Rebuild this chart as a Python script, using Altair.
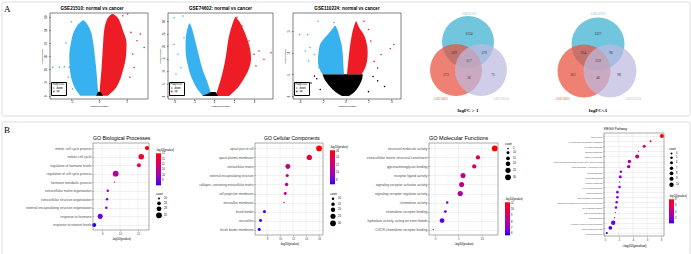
import altair as alt
import pandas as pd

SANS = "Liberation Sans"
SERIF = "Liberation Serif"
BLUE = "#38B1F1"
RED = "#EE1C24"
BLACK = "#000000"

# ---------------- Panel A: volcano plots (cloud envelopes + outliers) ----------------
# GSE21510
v1_down_y = [0, 5, 10, 20, 30, 40, 50, 54, 57]
v1_down_xl = [-3.4, -4.3, -4.8, -5.3, -5.4, -5.1, -4.4, -3.8, -3.0]
v1_down_xr = [-0.1, -0.2, -0.3, -0.5, -0.75, -1.05, -1.6, -2.1, -2.7]
v1_up_y = [0, 5, 10, 20, 30, 40, 50, 55, 60, 62]
v1_up_xl = [0.1, 0.15, 0.25, 0.45, 0.6, 0.75, 0.95, 1.2, 1.8, 2.3]
v1_up_xr = [1.6, 2.9, 3.6, 4.4, 4.9, 5.0, 4.3, 3.9, 3.2, 2.6]
v1_ns_y = [0, 1.5, 3]
v1_ns_xl = [-0.5, -0.35, -0.15]
v1_ns_xr = [0.7, 0.5, 0.2]
v1_pt_x = [-8.4, -7.2, -6.3, -5.4, -5.0, -6.0, -5.6, -4.8, 8.2, 7.5, 6.9, 6.1, 5.2, 4.3, 3.5, 5.8, 6.4, 5.6]
v1_pt_y = [21.5, 21.5, 22, 21.5, 56, 40, 14, 5, 36.6, 46.7, 41.7, 31.6, 61.9, 60.6, 57, 48, 21.4, 14]
v1_pt_d = ["down"] * 8 + ["up"] * 10

# GSE74602
v2_down_y = [0, 3, 6, 9, 12, 16, 20, 24, 27, 29]
v2_down_xl = [-1.1, -1.7, -2.1, -2.4, -2.6, -2.8, -2.85, -2.8, -2.65, -2.5]
v2_down_xr = [-0.2, -0.45, -0.7, -1.0, -1.25, -1.5, -1.75, -2.0, -2.2, -2.4]
v2_up_y = [0, 3, 7, 11, 15, 19, 23, 27, 30, 31.5]
v2_up_xl = [0.15, 0.4, 0.7, 0.95, 1.15, 1.3, 1.45, 1.7, 1.95, 2.1]
v2_up_xr = [1.5, 2.3, 3.0, 3.5, 3.7, 3.6, 3.3, 2.9, 2.5, 2.2]
v2_ns_y = [0, 0.8, 1.6]
v2_ns_xl = [-1.2, -0.7, -0.3]
v2_ns_xr = [0.4, 0.3, 0.15]
v2_pt_x = [-4.0, -3.1, -4.0, -3.6, -3.3, -3.8, -3.0, 4.0, 4.5, 5.7, 5.0, 2.3, 2.8, 3.5, 4.2]
v2_pt_y = [31.3, 32, 20.7, 16.7, 11.3, 8.7, 23.3, 16.7, 18, 17.3, 14.7, 31.5, 28, 22, 12]
v2_pt_d = ["down"] * 7 + ["up"] * 8

# GSE110224
v3_down_y = [5, 6.5, 8, 10, 12, 13.5, 15, 16.2]
v3_down_xl = [-2.0, -2.3, -2.4, -2.35, -2.2, -1.8, -1.3, -0.95]
v3_down_xr = [-0.13, -0.17, -0.2, -0.25, -0.35, -0.5, -0.65, -0.85]
v3_up_y = [5, 6.5, 8, 10, 12, 14, 16, 17.3]
v3_up_xl = [0.13, 0.18, 0.24, 0.32, 0.42, 0.54, 0.72, 0.9]
v3_up_xr = [1.4, 1.7, 1.87, 1.93, 1.85, 1.63, 1.15, 0.95]
v3_ns_y = [0, 1, 2, 3, 4, 5]
v3_ns_xl = [-0.3, -0.9, -1.3, -1.6, -1.85, -2.0]
v3_ns_xr = [0.3, 0.8, 1.1, 1.3, 1.45, 1.5]
v3_pt_x = [-4.0, -3.3, -2.4, -1.0, -3.1, -2.7, -3.2, -2.3, -3.5, 4.2, 3.9, 3.1, 2.8, 2.2, 1.6, 2.0, 2.5]
v3_pt_y = [14.2, 14.2, 17.3, 17, 11.2, 9.6, 8.1, 6.5, 10.4, 11.9, 11, 9.6, 6.5, 12.7, 17.3, 15.4, 8]
v3_pt_d = ["down"] * 9 + ["up"] * 8
v3_nsp_x = [-2.5, -3.0, 2.8, 3.4, -2.2, 2.0, -2.7, 2.4]
v3_nsp_y = [4, 3, 3.5, 2.2, 1.5, 1.0, 4.6, 4.5]

# ---------------- Venn diagrams ----------------
venn_sets = ["GSE21510", "GSE74602", "GSE110224"]
venn_fill = ["#3AAFD0", "#E8503F", "#BEBADF"]
venn_label_col = ["#8BB8CC", "#E8574A", "#B9B5D8"]
venn1_cx = [47, 35, 60]
venn1_cy = [29, 57, 57]
venn1_num = ["2124", "289", "129", "317", "373", "26", "75"]
venn1_nx = [48, 33, 63, 48, 25, 48, 72]
venn1_ny = [21, 40, 40, 48, 62, 65, 62]
venn1_lx = [48, 20, 80]
venn1_ly = [1, 86, 86]
venn1_caption = "logFC > 1"
venn2_cx = [47, 33, 59]
venn2_cy = [31, 58, 58]
venn2_num = ["3327", "184", "96", "239", "361", "46", "98"]
venn2_nx = [47, 32, 60, 47, 22, 47, 68]
venn2_ny = [21, 40, 40, 48, 62, 65, 62]
venn2_lx = [47, 12, 82]
venn2_ly = [1, 86, 86]
venn2_caption = "logFC<1"

# ---------------- Panel B: enrichment bubble plots ----------------
bp_terms = ["mitotic cell cycle process", "mitotic cell cycle", "regulation of hormone levels",
            "regulation of cell cycle process", "hormone metabolic process",
            "extracellular matrix organization", "extracellular structure organization",
            "external encapsulating structure organization", "response to hormone",
            "response to nutrient levels"]
bp_x = [11.5, 11.18, 11.05, 9.76, 9.70, 9.32, 9.28, 9.24, 8.90, 8.57]
bp_count = [26, 31, 25, 32, 19, 21, 21, 21, 29, 25]

cc_terms = ["apical part of cell", "apical plasma membrane", "extracellular matrix",
            "external encapsulating structure", "collagen- containing extracellular matrix",
            "cell projection membrane", "microvillus membrane", "brush border", "microvillus",
            "brush border membrane"]
cc_x = [16.0, 14.5, 11.2, 11.1, 11.0, 10.8, 10.6, 7.6, 7.0, 6.8]
cc_count = [30, 26, 24, 13, 14, 12, 7, 13, 12, 12]

mf_terms = ["structural molecule activity", "extracellular matrix structural constituent",
            "glycosaminoglycan binding", "receptor ligand activity",
            "signaling receptor activator activity", "signaling receptor regulator activity",
            "chemokine activity", "chemokine receptor binding",
            "hydrolase activity, acting on ester bonds", "CXCR chemokine receptor binding"]
mf_x = [12.8, 9.2, 8.4, 6.0, 5.7, 5.4, 2.6, 2.2, 1.5, -0.4]
mf_color = [11.0, 9.6, 9.3, 8.4, 8.2, 8.0, 6.9, 6.7, 6.4, 6.0]
mf_count = [30, 18, 18, 24, 24, 25, 8, 9, 22, 4]

kegg_terms = ["Bile secretion", "Proximal tubule bicarbonate reclamation", "Pyruvate metabolism",
              "Nitrogen metabolism", "Alcoholic liver disease",
              "Viral protein interaction with cytokine and cytokine receptor",
              "Drug metabolism - cytochrome P450", "Mineral absorption", "Rheumatoid arthritis",
              "Tyrosine metabolism", "IL-17 signaling pathway", "Retinol metabolism",
              "Steroid hormone biosynthesis",
              "Epithelial cell signaling in Helicobacter pylori infection",
              "PPAR signaling pathway", "Fatty acid degradation", "ABC transporters",
              "Cytokine-cytokine receptor interaction", "Lipid and atherosclerosis",
              "Pancreatic secretion"]
kegg_x = [8.1, 6.5, 5.6, 4.8, 4.6, 3.5, 3.4, 2.3, 2.2, 2.1, 2.1, 1.8, 1.8, 1.7, 1.6, 1.5, 1.4, 1.2, 0.8, 0.3]
kegg_count = [9, 4, 6, 3, 9, 7, 7, 5, 6, 3, 5, 5, 5, 5, 5, 3, 3, 10, 8, 4]

# minor grid positions (between the major ticks)
bp_minor = [9.5, 10.5, 11.5]
cc_minor = [7, 9, 11, 13, 15]
mf_minor = [2.5, 7.5, 12.5]
kegg_minor = [1, 3, 5, 7]


# ---------------- helpers ----------------
def region(ys, xl, xr, col, xs, ysc, xa, ya):
    df = pd.DataFrame({"y": ys, "xl": xl, "xr": xr})
    return alt.Chart(df).mark_area(orient="horizontal", color=col, interpolate="monotone").encode(
        y=alt.Y("y:Q", scale=ysc, axis=ya),
        x=alt.X("xl:Q", scale=xs, axis=xa),
        x2="xr:Q",
    )


def volcano(title, regs, px, py, pdir, xdom, ydom, xvals, yvals, w, h, title_dx=0,
            nsx=None, nsy=None):
    xs = alt.Scale(domain=xdom, nice=False, zero=False)
    ysc = alt.Scale(domain=ydom, nice=False, zero=False)
    xa = alt.Axis(values=xvals, title="log2(fold change)", labelFontSize=2.6, titleFontSize=2.4,
                  tickSize=1.5, tickWidth=0.4, tickColor=BLACK, domain=False, grid=False,
                  labelPadding=0.8, titlePadding=1.2, labelColor=BLACK, titleColor=BLACK,
                  titleFontWeight="normal", labelFlush=False)
    ya = alt.Axis(values=yvals, title="-log10(Pvalue)", labelFontSize=2.6, titleFontSize=2.4,
                  tickSize=1.5, tickWidth=0.4, tickColor=BLACK, domain=False, grid=False,
                  labelAngle=270, labelAlign="center", labelBaseline="bottom",
                  labelPadding=0.8, titlePadding=1.5, labelColor=BLACK, titleColor=BLACK,
                  titleFontWeight="normal", labelFlush=False)
    layers = [region(*r, xs, ysc, xa, ya) for r in regs]
    if nsx is not None:
        ndf = pd.DataFrame({"x": nsx, "y": nsy})
        layers.append(alt.Chart(ndf).mark_circle(size=2.5, opacity=1, color=BLACK).encode(
            x=alt.X("x:Q", scale=xs, axis=xa), y=alt.Y("y:Q", scale=ysc, axis=ya)))
    pdf = pd.DataFrame({"x": px, "y": py, "dir": pdir})
    layers.append(alt.Chart(pdf).mark_circle(size=2.5, opacity=1).encode(
        x=alt.X("x:Q", scale=xs, axis=xa),
        y=alt.Y("y:Q", scale=ysc, axis=ya),
        color=alt.Color("dir:N", scale=alt.Scale(domain=["down", "up"], range=[BLUE, RED]),
                        legend=alt.Legend(orient="none", legendX=1, legendY=h - 17,
                                          title="Padj<0.05", titleFontSize=2.6,
                                          titleFontWeight="normal", labelFontSize=2.6,
                                          symbolSize=3, symbolType="circle", rowPadding=0.4,
                                          titlePadding=0.6, labelOffset=1.5, padding=1.5,
                                          strokeColor=BLACK, fillColor="white",
                                          cornerRadius=0, symbolStrokeWidth=0)),
    ))
    return alt.layer(*layers).properties(
        width=w, height=h,
        title=alt.TitleParams(title, fontSize=4.6, fontWeight="bold", font=SANS, offset=2,
                              anchor="middle", frame="group", dx=title_dx, color=BLACK),
        view=alt.ViewBackground(stroke=BLACK, strokeWidth=0.5),
    )


def venn(cx, cy, nums, nx, ny, lx, ly, caption, w, h, size, extra=None):
    xs = alt.Scale(domain=[0, w], nice=False, zero=False)
    ysc = alt.Scale(domain=[0, h], nice=False, zero=False, reverse=True)
    cdf = pd.DataFrame({"x": cx, "y": cy, "set": venn_sets})
    circles = alt.Chart(cdf).mark_circle(opacity=0.72).encode(
        x=alt.X("x:Q", scale=xs, axis=None),
        y=alt.Y("y:Q", scale=ysc, axis=None),
        fill=alt.Fill("set:N", scale=alt.Scale(domain=venn_sets, range=venn_fill), legend=None),
        size=alt.value(size),
        order=alt.Order("o:Q"),
    ).transform_calculate(o="indexof(['GSE21510','GSE74602','GSE110224'], datum.set)")
    ndf = pd.DataFrame({"x": nx, "y": ny, "t": nums})
    numbers = alt.Chart(ndf).mark_text(font=SERIF, fontSize=3.6, color="#333333").encode(
        x=alt.X("x:Q", scale=xs, axis=None), y=alt.Y("y:Q", scale=ysc, axis=None), text="t:N")
    ldf = pd.DataFrame({"x": lx, "y": ly, "set": venn_sets})
    labels = alt.Chart(ldf).mark_text(font=SERIF, fontSize=3.2).encode(
        x=alt.X("x:Q", scale=xs, axis=None), y=alt.Y("y:Q", scale=ysc, axis=None),
        text="set:N",
        color=alt.Color("set:N", scale=alt.Scale(domain=venn_sets, range=venn_label_col),
                        legend=None))
    cap = alt.Chart(pd.DataFrame({"x": [cx[0]], "y": [h + 11], "t": [caption]})).mark_text(
        font=SERIF, fontSize=5, fontWeight="bold", color=BLACK).encode(
        x=alt.X("x:Q", scale=xs, axis=None), y=alt.Y("y:Q", scale=ysc, axis=None), text="t:N")
    layers = [circles, numbers, labels, cap]
    if extra is not None:
        layers = extra + layers
    return alt.layer(*layers).properties(width=w, height=h)


def bubble(title, terms, xs, cs, ns, xdom, xticks, minor, w, h, cdom, cvals, ndom, nvals,
           srange, cleg, nleg, glen, label_size=3.3, title_size=5.2, title_dx=0,
           title_x_size=3.0, top=0):
    """ggplot-style dot plot; the visible panel starts `top` px below the view's top."""
    df = pd.DataFrame({"term": terms, "x": xs, "c": cs, "n": ns})
    grid = "#e3e3e3"
    xsc = alt.Scale(domain=xdom, nice=False, zero=False)
    xa = alt.Axis(values=xticks, title="-log10(pvalue)", grid=False, labelFontSize=3,
                  titleFontSize=title_x_size, titleFontWeight="normal", labelColor="#4d4d4d",
                  titleColor=BLACK, tickSize=1, tickWidth=0.4, tickColor="#333333",
                  domain=False, labelPadding=1, titlePadding=2, labelFlush=False)
    mgrid = alt.Chart(pd.DataFrame({"x": minor})).mark_rule(color="#f1f1f1", strokeWidth=0.3).encode(
        x=alt.X("x:Q", scale=xsc, axis=xa), y=alt.value(top), y2=alt.value(h))
    vgrid = alt.Chart(pd.DataFrame({"x": xticks})).mark_rule(color=grid, strokeWidth=0.5).encode(
        x=alt.X("x:Q", scale=xsc, axis=xa), y=alt.value(top), y2=alt.value(h))
    pts = alt.Chart(df).mark_circle(opacity=1).encode(
        x=alt.X("x:Q", scale=xsc, axis=xa),
        y=alt.Y("term:N", sort=terms, scale=alt.Scale(padding=0.6, range=[top, h]),
                axis=alt.Axis(title=None, grid=True, gridColor=grid, gridWidth=0.5,
                              labelFontSize=label_size, labelColor="#4d4d4d", tickSize=1,
                              tickWidth=0.4, tickColor="#333333", domain=False, labelPadding=1,
                              labelLimit=400)),
        color=alt.Color("c:Q", scale=alt.Scale(domain=cdom, range=["#0000ff", "#ff0000"],
                                              interpolate="lab"),
                        legend=alt.Legend(orient="none", legendX=cleg[0], legendY=cleg[1],
                                          title="-log10(pvalue)", titleFontSize=2.8,
                                          titleFontWeight="normal", labelFontSize=2.6,
                                          gradientLength=glen, gradientThickness=5,
                                          values=cvals, direction="vertical",
                                          titlePadding=1.5, labelOffset=1,
                                          gradientStrokeWidth=0, titleLimit=100)),
        size=alt.Size("n:Q", scale=alt.Scale(domain=ndom, range=srange, zero=False),
                      legend=alt.Legend(orient="none", legendX=nleg[0], legendY=nleg[1],
                                        title="count", titleFontSize=2.8,
                                        titleFontWeight="normal", labelFontSize=2.6,
                                        values=nvals, symbolFillColor=BLACK,
                                        symbolStrokeColor=BLACK, symbolStrokeWidth=0,
                                        symbolType="circle", symbolOpacity=1, rowPadding=1,
                                        titlePadding=1.5, labelOffset=2)),
    )
    frame = alt.Chart(one).mark_rect(fill="white", fillOpacity=0, stroke="#555555",
                                     strokeWidth=0.5).encode(
        x=alt.value(0), x2=alt.value(w), y=alt.value(top), y2=alt.value(h))
    return alt.layer(mgrid, vgrid, pts, frame).properties(
        width=w, height=h,
        title=alt.TitleParams(title, fontSize=title_size, fontWeight="normal", font=SANS,
                              anchor="start", frame="group", offset=2, dx=title_dx, dy=top,
                              color=BLACK),
    )


one = pd.DataFrame({"s": [0]})

# ---------------- row A ----------------
# decorative panel frame + letter, positioned relative to the first Venn panel (origin x=420)
frameA = alt.Chart(one).mark_rect(fill="white", fillOpacity=0, stroke="#d4d4d4", strokeWidth=0.8,
                                 cornerRadius=2).encode(
    x=alt.value(-419), x2=alt.value(269), y=alt.value(-11), y2=alt.value(103))
labelA = alt.Chart(one).mark_text(text="A", font=SERIF, fontSize=9, align="left",
                                 baseline="middle", color=BLACK).encode(
    x=alt.value(-417), y=alt.value(-4))

V1 = volcano("GSE21510: normal vs cancer",
             [(v1_down_y, v1_down_xl, v1_down_xr, BLUE), (v1_up_y, v1_up_xl, v1_up_xr, RED),
              (v1_ns_y, v1_ns_xl, v1_ns_xr, BLACK)],
             v1_pt_x, v1_pt_y, v1_pt_d, [-8.9, 8.9], [-2.5, 62.7], [-5, 0, 5],
             [0, 10, 20, 30, 40, 50, 60], 98, 86, title_dx=-7)
V2 = volcano("GSE74602: normal vs cancer",
             [(v2_down_y, v2_down_xl, v2_down_xr, BLUE), (v2_up_y, v2_up_xl, v2_up_xr, RED),
              (v2_ns_y, v2_ns_xl, v2_ns_xr, BLACK)],
             v2_pt_x, v2_pt_y, v2_pt_d, [-4.6, 5.9], [-1.2, 33.2], [-4, -2, 0, 2, 4],
             [0, 5, 10, 15, 20, 25, 30], 105, 86)
V3 = volcano("GSE110224: normal vs cancer",
             [(v3_ns_y, v3_ns_xl, v3_ns_xr, BLACK), (v3_down_y, v3_down_xl, v3_down_xr, BLUE),
              (v3_up_y, v3_up_xl, v3_up_xr, RED)],
             v3_pt_x, v3_pt_y, v3_pt_d, [-4.57, 4.83], [-0.7, 19.2], [-4, -2, 0, 2, 4],
             [0, 5, 10, 15], 108, 86, nsx=v3_nsp_x, nsy=v3_nsp_y)
VN1 = venn(venn1_cx, venn1_cy, venn1_num, venn1_nx, venn1_ny, venn1_lx, venn1_ly,
           venn1_caption, 110, 86, 2704, extra=[frameA, labelA])
VN2 = venn(venn2_cx, venn2_cy, venn2_num, venn2_nx, venn2_ny, venn2_lx, venn2_ly,
           venn2_caption, 130, 86, 2809)

rowA = alt.hconcat(V1, V2, V3, VN1, VN2, spacing=20, bounds="flush").resolve_scale(
    color="independent", fill="independent", size="independent", x="independent",
    y="independent")

# ---------------- row B (row origin = top of KEGG panel) ----------------
frameB = alt.Chart(one).mark_rect(fill="white", fillOpacity=0, stroke="#d4d4d4", strokeWidth=0.8,
                                 cornerRadius=2).encode(
    x=alt.value(-48), x2=alt.value(640), y=alt.value(-11), y2=alt.value(122))
labelB = alt.Chart(one).mark_text(text="B", font=SERIF, fontSize=9, align="left",
                                 baseline="middle", color=BLACK).encode(
    x=alt.value(-46), y=alt.value(-3))
spB = alt.layer(frameB, labelB).properties(width=43, height=20)


def spacer(w):
    return alt.Chart(one).mark_point(opacity=0).encode(
        x=alt.value(0), y=alt.value(0)).properties(width=w, height=20)


BP = bubble("GO Biological Processes", bp_terms, bp_x, bp_x, bp_count, [8.5, 11.61], [9, 10, 11],
            bp_minor, 56, 97, [8.52, 11.55], [9.0, 9.5, 10.0, 10.5, 11.0, 11.5], [19, 32],
            [20, 24, 28, 32], [1.5, 33], (63, 16), (63, 60), 32, top=10)
CC = bubble("GO Cellular Components", cc_terms, cc_x, cc_x, cc_count, [6.15, 16.6],
            [8, 10, 12, 14, 16], cc_minor, 68, 102, [6.8, 16.0], [8, 10, 12, 14, 16], [7, 30],
            [10, 15, 20, 25, 30], [2, 33], (75, 13), (75, 60), 34, label_size=3.1,
            title_size=5.0, title_dx=9, top=10)
MF = bubble("GO Molecular Functions", mf_terms, mf_x, mf_color, mf_count, [-1.3, 13.5],
            [0, 5, 10], mf_minor, 69, 102, [6.0, 11.0], [6, 7, 8, 9, 10, 11], [4, 30],
            [5, 10, 15, 20, 25, 30], [1.5, 33], (76, 65), (76, 10), 33, label_size=3.4,
            title_size=5.5, top=10)
KG = bubble("KEGG Pathway", kegg_terms, kegg_x, kegg_x, kegg_count, [-0.1, 8.4], [0, 2, 4, 6, 8],
            kegg_minor, 60, 103, [0.3, 8.1], [2, 4, 6, 8], [3, 10], [4, 5, 6, 7, 8, 9, 10],
            [1.5, 19], (65, 62), (65, 15), 24, label_size=1.9, title_size=3.3, title_x_size=3.8)

rowB = alt.hconcat(spB, BP, spacer(106), CC, spacer(106), MF, spacer(106), KG, spacing=0,
                   bounds="flush").resolve_scale(color="independent", size="independent",
                                                 x="independent", y="independent")

chart = alt.vconcat(rowA, rowB, spacing=4).resolve_scale(
    color="independent", fill="independent", size="independent").properties(
    padding={"left": 1, "top": 1, "right": 0, "bottom": 0}
).configure(font=SANS).configure_view(stroke="transparent")

chart.save("out.html", embed_options={"renderer": "svg", "actions": False})
